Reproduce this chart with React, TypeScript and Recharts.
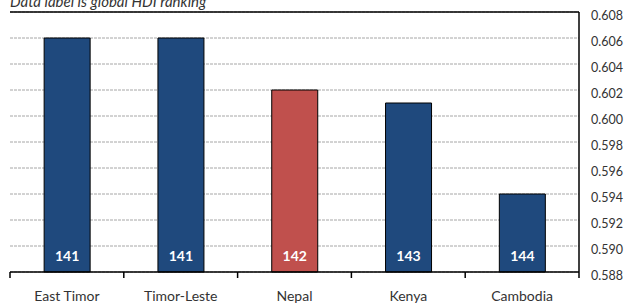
import React from 'react';
import { BarChart, Bar, XAxis, YAxis, CartesianGrid, ReferenceLine, LabelList, Cell } from 'recharts';

const countries = ['East Timor', 'Timor-Leste', 'Nepal', 'Kenya', 'Cambodia'];
const hdiValues = [0.606, 0.606, 0.602, 0.601, 0.594];
const hdiRanks = [141, 141, 142, 143, 144];
const highlight = ['Nepal'];
const yTicks = [0.588, 0.59, 0.592, 0.594, 0.596, 0.598, 0.6, 0.602, 0.604, 0.606, 0.608];

const data = countries.map((name, i) => ({ name, hdi: hdiValues[i], rank: hdiRanks[i] }));

const FONT = 'Lato, "DejaVu Sans", sans-serif';

const CountryTick = (props: any) => {
  const { x, y, payload, index } = props;
  const half = payload && payload.offset ? payload.offset : 57;
  return (
    <g>
      <line x1={x - half} x2={x - half} y1={y} y2={y + 6} stroke="#000" strokeWidth={1.5} />
      {index === countries.length - 1 && (
        <line x1={x + half} x2={x + half} y1={y} y2={y + 6} stroke="#000" strokeWidth={1.5} />
      )}
      <text x={x} y={y + 29} textAnchor="middle" fontSize={14} fontFamily={FONT} fill="#333">
        {payload.value}
      </text>
    </g>
  );
};

const ValueTick = (props: any) => {
  const { x, y, payload } = props;
  return (
    <text x={x} y={y + 8} textAnchor="start" fontSize={12.5} fontFamily={FONT} fill="#333">
      {payload.value.toFixed(3)}
    </text>
  );
};

export default function App() {
  return (
    <div style={{ position: 'absolute', left: 0, top: 0, width: 636, height: 304, background: '#fff', overflow: 'hidden' }}>
      <div
        style={{
          position: 'absolute',
          left: 10,
          top: -6,
          fontFamily: FONT,
          fontStyle: 'italic',
          fontSize: 15,
          lineHeight: 1,
          color: '#333',
          whiteSpace: 'nowrap',
        }}
      >
        Data label is global HDI ranking
      </div>
      <BarChart
        width={636}
        height={304}
        data={data}
        margin={{ top: 12, right: 0, bottom: 0, left: 10 }}
        barCategoryGap="30%"
      >
        <CartesianGrid yAxisId="r" vertical={false} stroke="#a6a6a6" strokeDasharray="3 1" />
        <XAxis
          dataKey="name"
          height={32}
          interval={0}
          tickLine={false}
          tickSize={0}
          tickMargin={0}
          axisLine={{ stroke: '#000', strokeWidth: 1.5 }}
          tick={<CountryTick />}
        />
        <YAxis
          yAxisId="l"
          orientation="left"
          width={0}
          domain={[0.588, 0.608]}
          ticks={yTicks}
          tick={false}
          tickLine={false}
          axisLine={{ stroke: '#000', strokeWidth: 1.5 }}
        />
        <YAxis
          yAxisId="r"
          orientation="right"
          width={57}
          domain={[0.588, 0.608]}
          ticks={yTicks}
          interval={0}
          tickLine={false}
          tickSize={0}
          tickMargin={12}
          axisLine={{ stroke: '#000', strokeWidth: 1.5 }}
          tick={<ValueTick />}
        />
        <ReferenceLine yAxisId="r" y={0.608} stroke="#000" strokeWidth={1.5} />
        <Bar yAxisId="r" dataKey="hdi" stroke="#000" strokeWidth={1} isAnimationActive={false}>
          {data.map((d) => (
            <Cell key={d.name} fill={highlight.includes(d.name) ? '#C0504D' : '#1F497D'} />
          ))}
          <LabelList
            dataKey="rank"
            position="insideBottom"
            offset={11}
            fill="#fff"
            fontSize={14}
            fontWeight="bold"
            fontFamily={FONT}
          />
        </Bar>
      </BarChart>
    </div>
  );
}
